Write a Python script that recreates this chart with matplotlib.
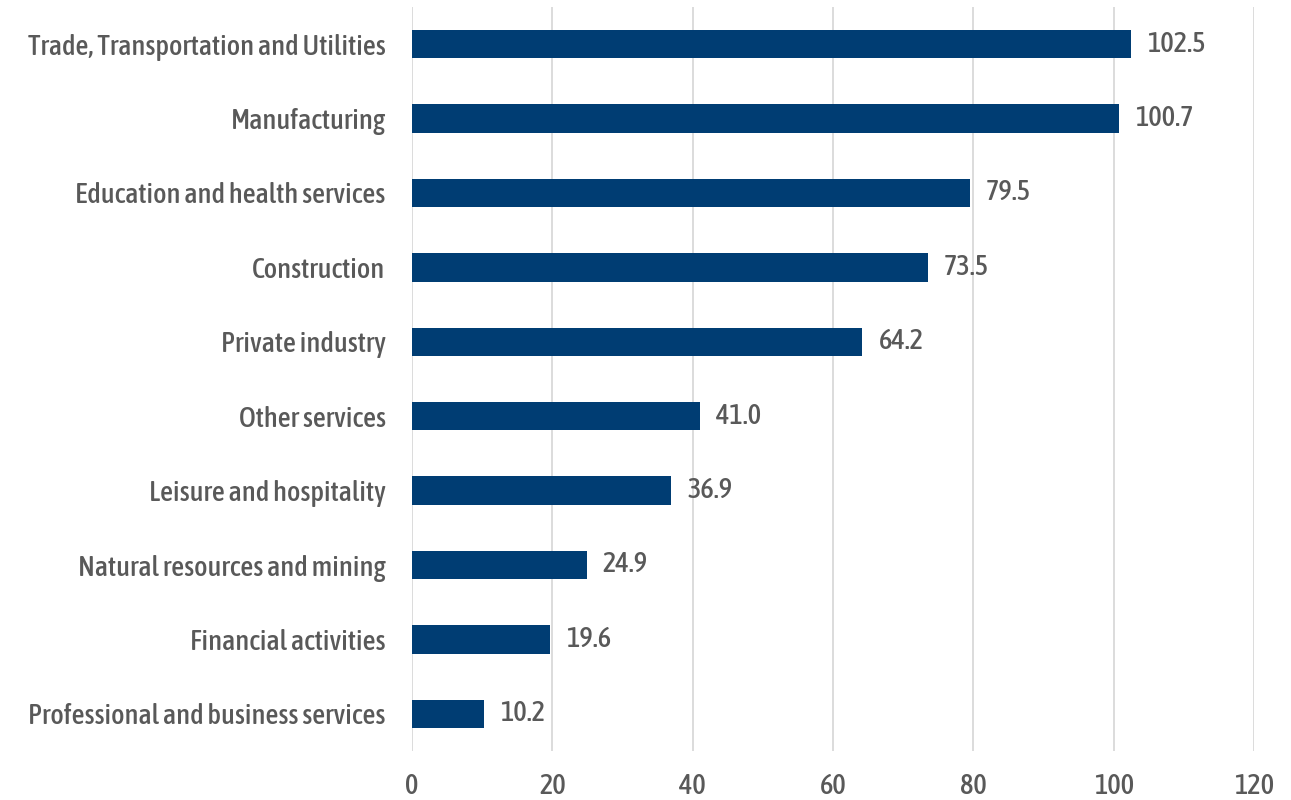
import matplotlib
matplotlib.use('Agg')
import matplotlib.pyplot as plt

# Data (bottom to top as drawn)
categories = [
    'Professional and business services',
    'Financial activities',
    'Natural resources and mining',
    'Leisure and hospitality',
    'Other services',
    'Private industry',
    'Construction',
    'Education and health services',
    'Manufacturing',
    'Trade, Transportation and Utilities',
]
values = [10.2, 19.6, 24.9, 36.9, 41.0, 64.2, 73.5, 79.5, 100.7, 102.5]
xticks = [0, 20, 40, 60, 80, 100, 120]

BAR = '#003D73'
TEXT = '#595959'
GRID = '#D9D9D9'
FS = 20.5
WEIGHT = 500

plt.rcParams['font.family'] = ['Asap Condensed', 'Archivo Narrow', 'DejaVu Sans']

fig = plt.figure(figsize=(12.91, 8.0), dpi=100)
ax = fig.add_axes([412 / 1291, 49 / 800, (1254 - 412) / 1291, 744 / 800])

ax.barh(range(len(values)), values, height=0.38, color=BAR, zorder=3)
for i, v in enumerate(values):
    ax.text(v + 2.3, i, f'{v:.1f}', va='center', ha='left',
            fontsize=FS, color=TEXT, fontweight=WEIGHT)

ax.set_xlim(0, 120)
ax.set_ylim(-0.5, len(values) - 0.5)
ax.set_xticks(xticks)
ax.set_yticks(range(len(values)))
ax.set_yticklabels(categories)
ax.xaxis.grid(True, color=GRID, lw=1.3, zorder=0)
ax.tick_params(axis='both', length=0, colors=TEXT, labelsize=FS)
ax.tick_params(axis='x', pad=16)
ax.tick_params(axis='y', pad=19)
for lbl in ax.get_xticklabels() + ax.get_yticklabels():
    lbl.set_fontweight(WEIGHT)
for spine in ax.spines.values():
    spine.set_visible(False)

fig.savefig('out.png', dpi=100, facecolor='white')
